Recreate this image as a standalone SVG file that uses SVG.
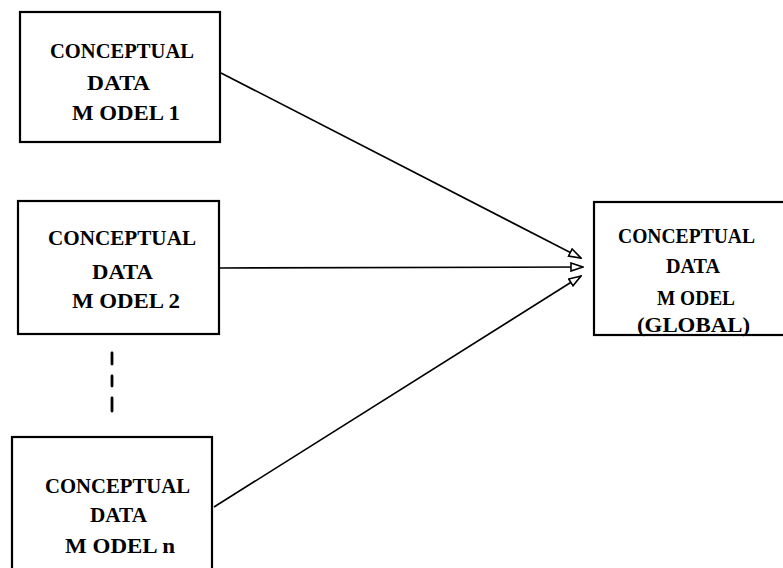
<svg xmlns="http://www.w3.org/2000/svg" width="783" height="568" viewBox="0 0 783 568">
<style>
.box{fill:#fff;stroke:#000;stroke-width:2.2}
.t{font-family:"Liberation Serif","Times New Roman",serif;font-weight:bold;font-size:21.5px;fill:#000}
.c{stroke:#000;stroke-width:1.6;fill:none}
.d{stroke:#000;stroke-width:2.8;stroke-linecap:round}
</style>
<defs>
<marker id="ah" viewBox="0 0 14 10" refX="13" refY="5" markerWidth="14" markerHeight="10" markerUnits="userSpaceOnUse" orient="auto">
<path d="M1,1 L13,5 L1,9 Z" fill="#fff" stroke="#000" stroke-width="1.6"/>
</marker>
</defs>
<rect width="783" height="568" fill="#fff"/>
<g id="connectors">
<line class="c" x1="221" y1="73" x2="581" y2="258" marker-end="url(#ah)"/>
<line class="c" x1="219" y1="268" x2="583" y2="267" marker-end="url(#ah)"/>
<line class="c" x1="214" y1="507" x2="581" y2="276" marker-end="url(#ah)"/>
<g id="ellipsis">
<line class="d" x1="112" y1="353" x2="112" y2="364"/>
<line class="d" x1="112" y1="376" x2="112" y2="386"/>
<line class="d" x1="112" y1="398" x2="112" y2="411"/>
</g>
</g>
<g id="model1">
<rect class="box" x="20" y="12" width="200" height="130"/>
<text class="t" x="50" y="58" textLength="144" lengthAdjust="spacingAndGlyphs">CONCEPTUAL</text>
<text class="t" x="87" y="90" textLength="63" lengthAdjust="spacingAndGlyphs">DATA</text>
<text class="t" x="72" y="120" textLength="108" lengthAdjust="spacingAndGlyphs">M ODEL 1</text>
</g>
<g id="model2">
<rect class="box" x="18" y="201" width="201" height="133"/>
<text class="t" x="48" y="245" textLength="148" lengthAdjust="spacingAndGlyphs">CONCEPTUAL</text>
<text class="t" x="92" y="279" textLength="61" lengthAdjust="spacingAndGlyphs">DATA</text>
<text class="t" x="72" y="308" textLength="108" lengthAdjust="spacingAndGlyphs">M ODEL 2</text>
</g>
<g id="modeln">
<rect class="box" x="12" y="437" width="200" height="145"/>
<text class="t" x="45" y="493" textLength="145" lengthAdjust="spacingAndGlyphs">CONCEPTUAL</text>
<text class="t" x="90" y="522" textLength="57" lengthAdjust="spacingAndGlyphs">DATA</text>
<text class="t" x="65" y="553" textLength="110" lengthAdjust="spacingAndGlyphs">M ODEL n</text>
</g>
<g id="global">
<rect class="box" x="594" y="202" width="200" height="133"/>
<text class="t" x="618" y="243" textLength="137" lengthAdjust="spacingAndGlyphs">CONCEPTUAL</text>
<text class="t" x="666" y="273" textLength="54" lengthAdjust="spacingAndGlyphs">DATA</text>
<text class="t" x="657" y="305" textLength="78" lengthAdjust="spacingAndGlyphs">M ODEL</text>
<text class="t" x="637" y="332" textLength="113" lengthAdjust="spacingAndGlyphs">(GLOBAL)</text>
</g>
</svg>
